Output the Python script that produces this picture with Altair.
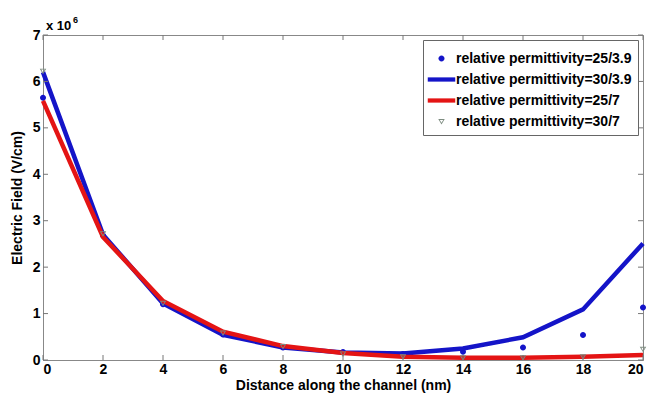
import altair as alt
import pandas as pd

# distance along the channel (nm)
distance = [0, 2, 4, 6, 8, 10, 12, 14, 16, 18, 20]
# electric field in units of 10^6 V/cm
field_25_39 = [5.65, 2.68, 1.20, 0.55, 0.27, 0.17, 0.13, 0.18, 0.27, 0.54, 1.13]
field_30_39 = [6.20, 2.70, 1.22, 0.54, 0.27, 0.16, 0.14, 0.25, 0.49, 1.09, 2.51]
field_25_7 = [5.58, 2.65, 1.27, 0.61, 0.30, 0.15, 0.07, 0.05, 0.05, 0.07, 0.11]
field_30_7 = [6.22, 2.72, 1.22, 0.58, 0.29, 0.13, 0.07, 0.05, 0.05, 0.07, 0.23]

series_names = [
    "relative permittivity=25/3.9",
    "relative permittivity=30/3.9",
    "relative permittivity=25/7",
    "relative permittivity=30/7",
]
x_ticks = [0, 2, 4, 6, 8, 10, 12, 14, 16, 18, 20]
y_ticks = [0, 1, 2, 3, 4, 5, 6, 7]

rows = []
for name, vals in zip(series_names, [field_25_39, field_30_39, field_25_7, field_30_7]):
    for d, v in zip(distance, vals):
        rows.append({"d": d, "E": v, "series": name})
df = pd.DataFrame(rows)

FONT = "Liberation Sans"
W, H = 600, 325

colors = ["#1414c8", "#1414c8", "#e41414", "#7d8c80"]
shapes = [
    "M-0.24,0A0.24,0.24,0,1,0,0.24,0A0.24,0.24,0,1,0,-0.24,0Z",
    "M-1.1,-0.17L1.1,-0.17L1.1,0.17L-1.1,0.17Z",
    "M-1.1,-0.17L1.1,-0.17L1.1,0.17L-1.1,0.17Z",
    "M-0.26,-0.2L0.26,-0.2L0,0.24ZM-0.14,-0.13L0,0.1L0.14,-0.13Z",
]

X = alt.X("d:Q", scale=alt.Scale(domain=[0, 20], nice=False),
          axis=alt.Axis(values=x_ticks, title="Distance along the channel (nm)"))
Y = alt.Y("E:Q", scale=alt.Scale(domain=[0, 7], nice=False),
          axis=alt.Axis(values=y_ticks, title="Electric Field (V/cm)"))
color_scale = alt.Scale(domain=series_names, range=colors)
shape_scale = alt.Scale(domain=series_names, range=shapes)

base = alt.Chart(df)

blue_line = base.transform_filter(alt.datum.series == series_names[1]).mark_line(
    strokeWidth=4.5).encode(x=X, y=Y, color=alt.Color("series:N", scale=color_scale, legend=None))
red_line = base.transform_filter(alt.datum.series == series_names[2]).mark_line(
    strokeWidth=4.5).encode(x=X, y=Y, color=alt.Color("series:N", scale=color_scale, legend=None))

legend = alt.Legend(title=None)
dots = base.transform_filter(alt.datum.series == series_names[0]).mark_point(
    filled=True, size=625, strokeWidth=0, opacity=1).encode(
    x=X, y=Y,
    color=alt.Color("series:N", scale=color_scale, legend=legend),
    shape=alt.Shape("series:N", scale=shape_scale, legend=legend))
tris = base.transform_filter(alt.datum.series == series_names[3]).mark_point(
    filled=True, size=625, strokeWidth=0, opacity=1).encode(
    x=X, y=Y,
    color=alt.Color("series:N", scale=color_scale, legend=legend),
    shape=alt.Shape("series:N", scale=shape_scale, legend=legend))

xt = alt.Chart(pd.DataFrame({"d": x_ticks}))
yt = alt.Chart(pd.DataFrame({"E": y_ticks}))
tick_color = "#777777"
xt_bottom = xt.mark_rule(color=tick_color).encode(x=X, y=alt.value(H), y2=alt.value(H - 5))
xt_top = xt.mark_rule(color=tick_color).encode(x=X, y=alt.value(0), y2=alt.value(5))
yt_left = yt.mark_rule(color=tick_color).encode(y=Y, x=alt.value(0), x2=alt.value(5))
yt_right = yt.mark_rule(color=tick_color).encode(y=Y, x=alt.value(W - 5), x2=alt.value(W))

mult = alt.Chart(pd.DataFrame({"t": ["x 10"]})).mark_text(
    font=FONT, fontSize=13, fontWeight="bold", align="left", baseline="alphabetic", color="black"
).encode(text="t:N", x=alt.value(3), y=alt.value(-5))
expo = alt.Chart(pd.DataFrame({"t": ["6"]})).mark_text(
    font=FONT, fontSize=9, fontWeight="bold", align="left", baseline="alphabetic", color="black"
).encode(text="t:N", x=alt.value(30), y=alt.value(-12))

chart = alt.layer(
    dots, blue_line, red_line, tris,
    xt_bottom, xt_top, yt_left, yt_right, mult, expo
).properties(
    width=W, height=H,
    autosize=alt.AutoSizeParams(type="none"),
    padding={"left": 43, "top": 35, "right": 22, "bottom": 39},
    background="white",
).configure_view(
    stroke="#888888", strokeWidth=1
).configure_axis(
    grid=False, ticks=False, domainColor="#888888", domainWidth=1,
    labelFont=FONT, labelFontSize=14, labelFontWeight="bold", labelColor="black",
    titleFont=FONT, titleFontSize=14, titleFontWeight="bold", titleColor="black",
    labelPadding=3,
).configure_axisY(
    titlePadding=8,
).configure_axisX(
    titlePadding=2, labelPadding=2,
).configure_legend(
    orient="none", legendX=380, legendY=5,
    fillColor="white", strokeColor="#666666", padding=6,
    labelFont=FONT, labelFontSize=14, labelFontWeight="bold", labelColor="black",
    labelLimit=400,
    symbolSize=625, symbolStrokeWidth=0, symbolOpacity=1, rowPadding=1, labelOffset=2,
)

chart.save("out.html", embed_options={"renderer": "svg", "actions": False})
